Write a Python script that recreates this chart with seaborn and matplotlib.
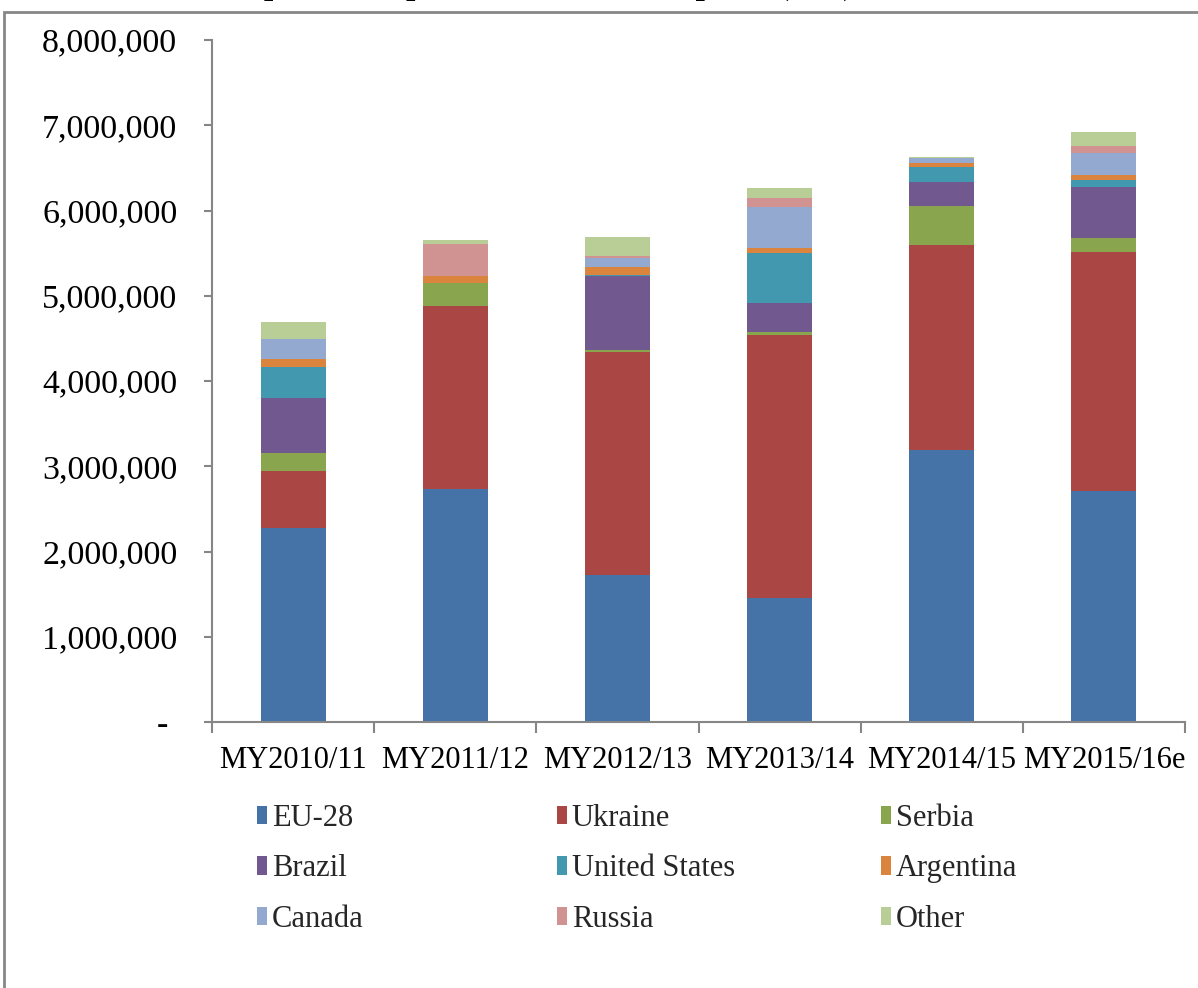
import matplotlib
matplotlib.use("Agg")
import matplotlib.pyplot as plt
import seaborn as sns
import numpy as np
from matplotlib.patches import Rectangle, Patch
from matplotlib.ticker import FuncFormatter, FixedLocator

# ---- data ----
years = ["MY2010/11", "MY2011/12", "MY2012/13", "MY2013/14", "MY2014/15", "MY2015/16e"]
eu28 = [2275000, 2733000, 1728000, 1455000, 3191000, 2710000]
ukraine = [668000, 2150000, 2616000, 3081000, 2401000, 2803000]
serbia = [211000, 267000, 20000, 35000, 464000, 164000]
brazil = [649000, 0, 864000, 340000, 282000, 602000]
united_states = [357000, 0, 15000, 590000, 169000, 75000]
argentina = [94000, 82000, 94000, 59000, 47000, 62000]
canada = [238000, 0, 102000, 478000, 62000, 255000]
russia = [0, 372000, 31000, 105000, 0, 89000]
other = [196000, 47000, 216000, 125000, 12000, 157000]

series_names = ["EU-28", "Ukraine", "Serbia", "Brazil", "United States",
                "Argentina", "Canada", "Russia", "Other"]
series_values = [eu28, ukraine, serbia, brazil, united_states,
                 argentina, canada, russia, other]
colors = ["#4572A7", "#AA4643", "#89A54E", "#71588F", "#4198AF",
          "#DB843D", "#93A9CF", "#D19392", "#B9CD96"]
y_ticks = [0, 1000000, 2000000, 3000000, 4000000, 5000000, 6000000, 7000000, 8000000]
title_text = "Rapeseed Exporters' Share of Imports (MT)"

# ---- style ----
sns.set_theme(style="white")
plt.rcParams["font.family"] = ["Liberation Serif", "DejaVu Serif"]

W, H = 1198, 988
fig = plt.figure(figsize=(W / 100, H / 100), dpi=100)
ax = fig.add_axes([212 / W, 1 - 722 / H, (1185 - 212) / W, (722 - 40) / H])

bottom = np.zeros(len(years))
for name, vals, c in zip(series_names, series_values, colors):
    sns.barplot(x=years, y=vals, bottom=bottom, color=c, saturation=1,
                width=0.4, errorbar=None, linewidth=0, ax=ax, label=name)
    bottom = bottom + np.array(vals, dtype=float)

ax.set_xlim(-0.5, len(years) - 0.5)
ax.set_ylim(0, 8000000)
ax.yaxis.set_major_locator(FixedLocator(y_ticks))
ax.yaxis.set_major_formatter(FuncFormatter(lambda v, p: "- " if v == 0 else f"{int(v):,}"))

for s in ["top", "right"]:
    ax.spines[s].set_visible(False)
for s in ["left", "bottom"]:
    ax.spines[s].set_color("#868686")
    ax.spines[s].set_linewidth(1.5)

ax.tick_params(axis="y", which="major", left=True, length=6, width=1.5,
               color="#868686", labelsize=24.5, pad=19, labelcolor="black")
ax.tick_params(axis="x", which="major", bottom=False, length=0, labelsize=22,
               pad=17, labelcolor="black")
ax.set_xticks(np.arange(-0.5, len(years) + 0.5, 1.0), minor=True)
ax.tick_params(axis="x", which="minor", bottom=True, length=8, width=1.5,
               color="#868686", direction="out")
ax.set_xlabel("")
ax.set_ylabel("")
if ax.get_legend() is not None:
    ax.get_legend().remove()

# ---- legend: three columns laid out like the reference ----
col_x = [257, 557, 881]
col_items = [[0, 3, 6], [1, 4, 7], [2, 5, 8]]
for cx, items in zip(col_x, col_items):
    handles = [Patch(facecolor=colors[i], edgecolor="none") for i in items]
    labels = [series_names[i] for i in items]
    fig.legend(handles, labels, loc="upper left",
               bbox_to_anchor=(cx / W, 1 - 804 / H),
               bbox_transform=fig.transFigure, frameon=False,
               fontsize=22, handlelength=0.33, handleheight=0.55,
               handletextpad=0.15, labelspacing=0.70, borderpad=0,
               borderaxespad=0)

# ---- outer frame and (cropped) title ----
fig.add_artist(Rectangle((4 / W, -0.05), 2.0, (1 - 12 / H) + 0.05,
                         transform=fig.transFigure, fill=False,
                         edgecolor="#878787", linewidth=2))
fig.text(854 / W, 1 + 6 / H, title_text, ha="right", va="baseline",
         fontsize=24, fontweight="bold", color="black")

fig.savefig("out.png", dpi=100)
